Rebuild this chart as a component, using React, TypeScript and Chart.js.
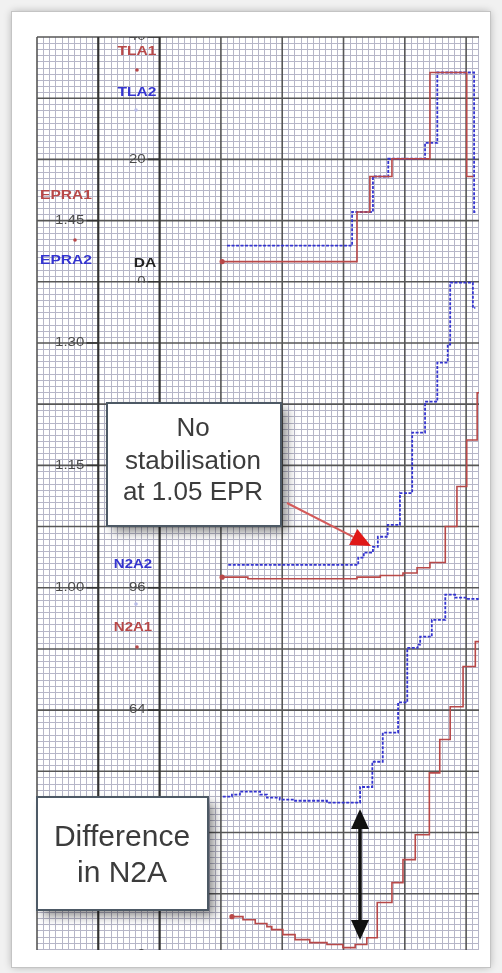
import React, { useEffect, useRef } from "react";
import { Chart, registerables } from "chart.js";
Chart.register(...registerables);

// ---- data (time in seconds, values in engineering units) ----
const TLA1_T = [30.2, 52.2, 54.3, 57.9, 64.1, 70.1, 71.2];
const TLA1_V = [3.3, 11.4, 17.2, 20.1, 34.2, 17.2, 17.2];
const TLA2_T = [31.0, 51.4, 54.8, 57.3, 63.3, 65.3, 71.3, 71.6];
const TLA2_V = [5.9, 11.4, 17.2, 20.1, 22.7, 34.2, 11.4, 11.4];

const EPRA1_T = [30.2, 34.4, 52.2, 56.0, 59.7, 62.0, 64.1, 66.6, 68.5, 70.1, 71.8, 72.1];
const EPRA1_V = [1.013, 1.011, 1.013, 1.015, 1.018, 1.0245, 1.031, 1.075, 1.124, 1.181, 1.239, 1.239];
const EPRA2_T = [31.2, 52.4, 53.3, 54.8, 55.6, 57.2, 59.2, 61.2, 63.3, 65.3, 67.0, 67.4, 71.1, 71.5];
const EPRA2_V = [1.028, 1.037, 1.043, 1.05, 1.0625, 1.077, 1.116, 1.19, 1.228, 1.276, 1.298, 1.374, 1.343, 1.343];

const N2A1_T = [31.8, 33.6, 35.6, 37.5, 38.3, 40.1, 42.1, 44.5, 47.3, 49.9, 51.9, 53.8, 55.5, 57.9, 59.7, 61.7, 64.0, 65.7, 67.4, 69.5, 71.5, 72.1];
const N2A1_V = [10.0, 9.2, 8.2, 7.4, 6.6, 5.3, 4.0, 3.2, 2.7, 1.9, 2.7, 4.5, 13.7, 18.9, 24.9, 31.4, 47.6, 56.3, 64.9, 75.4, 81.9, 81.9];
const N2A2_T = [30.3, 31.8, 33.1, 36.4, 37.5, 39.6, 42.1, 47.3, 52.7, 54.7, 56.4, 58.9, 60.4, 62.1, 62.5, 64.4, 66.6, 68.2, 70.1, 71.9];
const N2A2_V = [41.4, 41.9, 42.7, 41.9, 41.1, 40.6, 40.3, 39.8, 43.9, 50.5, 58.1, 66.0, 80.3, 81.1, 83.2, 87.6, 94.2, 93.4, 93.1, 92.6];

const TLA_TICKS = [40, 20, 0];
const EPR_TICKS = [1.45, 1.3, 1.15, 1.0];
const N2A_TICKS = [96, 64, 32, 0];

const W = 502;
const H = 973;
const RED = "#b84848";
const BLUE = "#3434d0";

const pts = (t: number[], v: number[]) => t.map((x, i) => ({ x, y: v[i] }));

function sText(ctx: CanvasRenderingContext2D, s: string, x: number, y: number, font: string, color: string, align: CanvasTextAlign, sx = 1) {
  ctx.save();
  ctx.translate(x, y);
  ctx.scale(sx, 1);
  ctx.font = font;
  ctx.fillStyle = color;
  ctx.textAlign = align;
  ctx.textBaseline = "middle";
  ctx.fillText(s, 0, 0);
  ctx.restore();
}

export default function App() {
  const ref = useRef<HTMLCanvasElement>(null);
  useEffect(() => {
    const canvas = ref.current!;
    const bgPlugin = {
      id: "bgGrid",
      beforeDraw(chart: any) {
        const ctx: CanvasRenderingContext2D = chart.ctx;
        const xs = chart.scales.x, gs = chart.scales.g;
        const { left, right, top, bottom } = chart.chartArea;
        ctx.save();
        ctx.fillStyle = "#f1f1f1";
        ctx.fillRect(0, 0, W, H);
        ctx.shadowColor = "rgba(0,0,0,0.3)";
        ctx.shadowBlur = 8;
        ctx.fillStyle = "#ffffff";
        ctx.fillRect(12, 12, 478, 955);
        ctx.shadowColor = "transparent";
        ctx.strokeStyle = "#c4c4c4";
        ctx.lineWidth = 1;
        ctx.strokeRect(11.5, 11.5, 479, 956);
        // minor grid
        ctx.strokeStyle = "#b6b6c8";
        ctx.lineWidth = 1;
        ctx.beginPath();
        for (let t = 0; t <= 72; t++) {
          if (t % 10 === 0) continue;
          const x = Math.round(xs.getPixelForValue(t)) + 0.5;
          ctx.moveTo(x, top); ctx.lineTo(x, bottom);
        }
        for (let g = 1; g <= 150; g++) {
          if (g % 10 === 0) continue;
          const y = Math.round(gs.getPixelForValue(g)) + 0.5;
          if (y > bottom) continue;
          ctx.moveTo(left, y); ctx.lineTo(right, y);
        }
        ctx.stroke();
        // major grid
        ctx.strokeStyle = "#575757";
        ctx.lineWidth = 1.6;
        ctx.beginPath();
        for (let t = 0; t <= 70; t += 10) {
          const x = xs.getPixelForValue(t);
          ctx.moveTo(x, top); ctx.lineTo(x, bottom);
        }
        for (let g = 10; g <= 150; g += 10) {
          const y = gs.getPixelForValue(g);
          ctx.moveTo(left, y); ctx.lineTo(right, y);
        }
        ctx.stroke();
        // axis lines
        ctx.strokeStyle = "#333";
        ctx.lineWidth = 2;
        ctx.beginPath();
        [10, 20].forEach((t) => {
          const x = xs.getPixelForValue(t);
          ctx.moveTo(x, top); ctx.lineTo(x, bottom);
        });
        ctx.stroke();
        ctx.restore();
      },
    };

    const annPlugin = {
      id: "ann",
      afterDatasetsDraw(chart: any) {
        const ctx: CanvasRenderingContext2D = chart.ctx;
        const xs = chart.scales.x;
        const sT = chart.scales.yTLA, sE = chart.scales.yEPR, sN = chart.scales.yN2A;
        const { left, right, top, bottom } = chart.chartArea;
        const axE = xs.getPixelForValue(10);
        const axT = xs.getPixelForValue(20);
        const tickFont = "12px 'Liberation Sans', Arial, sans-serif";
        const grey = "#4a4a4a";
        // TLA ticks (clipped to TLA panel)
        ctx.save();
        ctx.beginPath();
        ctx.rect(left, top, right - left, sT.getPixelForValue(0) + 1 - top);
        ctx.clip();
        TLA_TICKS.forEach((v) => {
          const y = sT.getPixelForValue(v);
          sText(ctx, String(v), axT - 14, y, tickFont, grey, "right", 1.25);
          ctx.strokeStyle = "#333"; ctx.lineWidth = 1.6;
          ctx.beginPath(); ctx.moveTo(axT - 12, y); ctx.lineTo(axT, y); ctx.stroke();
        });
        ctx.restore();
        ctx.save();
        ctx.beginPath();
        ctx.rect(left, top, right - left, bottom - top);
        ctx.clip();
        EPR_TICKS.forEach((v) => {
          const y = sE.getPixelForValue(v);
          sText(ctx, v.toFixed(2), axE - 14, y, tickFont, grey, "right", 1.25);
          ctx.strokeStyle = "#333"; ctx.lineWidth = 1.6;
          ctx.beginPath(); ctx.moveTo(axE - 12, y); ctx.lineTo(axE, y); ctx.stroke();
        });
        N2A_TICKS.forEach((v) => {
          const y = sN.getPixelForValue(v);
          sText(ctx, String(v), axT - 14, y, tickFont, grey, "right", 1.25);
          ctx.strokeStyle = "#333"; ctx.lineWidth = 1.6;
          ctx.beginPath(); ctx.moveTo(axT - 12, y); ctx.lineTo(axT, y); ctx.stroke();
        });
        ctx.restore();

        // parameter names
        const lf = "bold 12px 'Liberation Sans', Arial, sans-serif";
        sText(ctx, "TLA1", 137, 52, lf, RED, "center", 1.3);
        sText(ctx, "TLA2", 137, 93, lf, BLUE, "center", 1.3);
        sText(ctx, "EPRA1", 66, 196, lf, RED, "center", 1.3);
        sText(ctx, "EPRA2", 66, 261, lf, BLUE, "center", 1.3);
        sText(ctx, "DA", 145, 263, "bold 13px 'Liberation Sans', Arial, sans-serif", "#222", "center", 1.2);
        sText(ctx, "N2A2", 133, 565, lf, BLUE, "center", 1.25);
        sText(ctx, "N2A1", 133, 628, lf, RED, "center", 1.25);
        const dot = (x: number, y: number, c: string) => {
          ctx.fillStyle = c; ctx.beginPath(); ctx.arc(x, y, 1.8, 0, Math.PI * 2); ctx.fill();
        };
        dot(137, 70, RED);
        dot(75, 240, RED);
        dot(137, 647, RED);
        dot(136, 110, "#b8bce8");
        dot(136, 604, "#b8bce8");

        // annotation box helper
        const box = (x: number, y: number, w: number, h: number) => {
          ctx.save();
          ctx.shadowColor = "rgba(0,0,0,0.45)";
          ctx.shadowBlur = 10;
          ctx.shadowOffsetX = 6;
          ctx.shadowOffsetY = 6;
          ctx.fillStyle = "#fff";
          ctx.fillRect(x, y, w, h);
          ctx.restore();
          ctx.strokeStyle = "#4d5965";
          ctx.lineWidth = 2;
          ctx.strokeRect(x, y, w, h);
        };
        box(107, 403, 174, 123);
        const f1 = "26px 'Liberation Sans', Arial, sans-serif";
        sText(ctx, "No", 193, 429, f1, "#3c3c3c", "center");
        sText(ctx, "stabilisation", 193, 462, f1, "#3c3c3c", "center");
        sText(ctx, "at 1.05 EPR", 193, 493, f1, "#3c3c3c", "center");

        // red arrow
        const x0 = 287, y0 = 503, x1 = 371, y1 = 546;
        const ang = Math.atan2(y1 - y0, x1 - x0);
        const hl = 20, hw = 9;
        const bx = x1 - hl * Math.cos(ang), by = y1 - hl * Math.sin(ang);
        ctx.strokeStyle = "#d45a5a"; ctx.lineWidth = 2;
        ctx.beginPath(); ctx.moveTo(x0, y0); ctx.lineTo(bx, by); ctx.stroke();
        ctx.fillStyle = "#e01818";
        ctx.beginPath();
        ctx.moveTo(x1, y1);
        ctx.lineTo(bx + hw * Math.sin(ang), by - hw * Math.cos(ang));
        ctx.lineTo(bx - hw * Math.sin(ang), by + hw * Math.cos(ang));
        ctx.closePath(); ctx.fill();

        box(37, 797, 171, 113);
        const f2 = "30px 'Liberation Sans', Arial, sans-serif";
        sText(ctx, "Difference", 122, 838, f2, "#3c3c3c", "center");
        sText(ctx, "in N2A", 122, 874, f2, "#3c3c3c", "center");

        // black double arrow
        const ax = 360;
        ctx.strokeStyle = "#111"; ctx.lineWidth = 3.5;
        ctx.beginPath(); ctx.moveTo(ax, 824); ctx.lineTo(ax, 924); ctx.stroke();
        ctx.fillStyle = "#111";
        ctx.beginPath(); ctx.moveTo(ax, 809); ctx.lineTo(ax - 9, 829); ctx.lineTo(ax + 9, 829); ctx.closePath(); ctx.fill();
        ctx.beginPath(); ctx.moveTo(ax, 940); ctx.lineTo(ax - 9, 920); ctx.lineTo(ax + 9, 920); ctx.closePath(); ctx.fill();
      },
    };

    const redDs = (t: number[], v: number[], axis: string) => ({
      data: pts(t, v),
      yAxisID: axis,
      xAxisID: "x",
      borderColor: RED,
      borderWidth: 1.6,
      stepped: "before" as const,
      fill: false,
      pointRadius: (c: any) => (c.dataIndex === 0 ? 2.6 : 0),
      pointBackgroundColor: RED,
      pointBorderWidth: 0,
    });
    const blueDs = (t: number[], v: number[], axis: string) => ({
      data: pts(t, v),
      yAxisID: axis,
      xAxisID: "x",
      borderColor: BLUE,
      borderWidth: 1.8,
      borderDash: [3, 1.5],
      stepped: "before" as const,
      fill: false,
      pointRadius: 0,
    });

    const chart = new Chart(canvas, {
      type: "line",
      data: {
        datasets: [
          redDs(TLA1_T, TLA1_V, "yTLA"),
          blueDs(TLA2_T, TLA2_V, "yTLA"),
          redDs(EPRA1_T, EPRA1_V, "yEPR"),
          blueDs(EPRA2_T, EPRA2_V, "yEPR"),
          redDs(N2A1_T, N2A1_V, "yN2A"),
          blueDs(N2A2_T, N2A2_V, "yN2A"),
        ] as any,
      },
      options: {
        responsive: false,
        animation: false,
        devicePixelRatio: 1,
        events: [],
        layout: { padding: { left: 37, top: 37, right: 23, bottom: 23 } },
        plugins: { legend: { display: false }, tooltip: { enabled: false } },
        scales: {
          x: { type: "linear", axis: "x", min: 0, max: 72.1, display: false },
          g: { type: "linear", axis: "y", min: 0.8, max: 150, display: false },
          yTLA: { type: "linear", axis: "y", min: 0.8 - 110, max: 40, display: false },
          yEPR: { type: "linear", axis: "y", min: 1 + (0.8 - 60) * 0.0075, max: 1.675, display: false },
          yN2A: { type: "linear", axis: "y", min: 96 + (0.8 - 60) * 1.6, max: 240, display: false },
        } as any,
      },
      plugins: [bgPlugin, annPlugin],
    });
    return () => chart.destroy();
  }, []);
  return (
    <div style={{ position: "absolute", left: 0, top: 0, width: W, height: H }}>
      <canvas ref={ref} width={W} height={H} style={{ display: "block" }} />
    </div>
  );
}
